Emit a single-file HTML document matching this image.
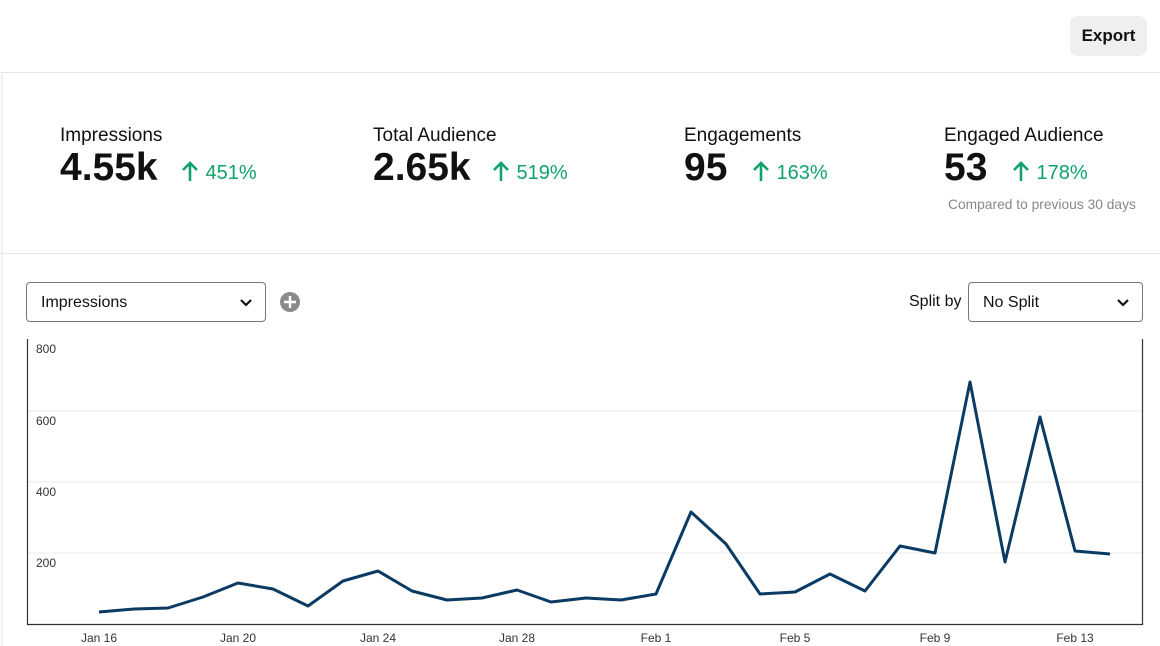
<!DOCTYPE html><html><head><style>
body{margin:0;width:1160px;height:646px;background:#fff;font-family:"Liberation Sans",sans-serif;position:relative;overflow:hidden;color:#111}
.a{position:absolute;white-space:nowrap}
.lbl{font-size:19px;color:#111}
.num{font-size:39px;font-weight:bold;color:#111}
.pct{font-size:20px;color:#0fa36b}
.sel{position:absolute;border:1px solid #777;border-radius:4px;height:38px;box-sizing:border-box;font-size:16px;line-height:38px;padding-left:14px}
</style></head><body>
<div class="a" style="left:1070px;top:16px;width:77px;height:40px;background:#efefef;border-radius:8px;font-weight:bold;font-size:17px;line-height:40px;text-align:center">Export</div>
<div class="a" style="left:0;top:72px;width:1160px;height:1px;background:#e6e6e6"></div>
<div class="a" style="left:1px;top:72px;width:2px;height:574px;background:#f0f0f0"></div>
<div class="a" style="left:0;top:253px;width:1160px;height:1px;background:#e6e6e6"></div>

<div class="a lbl" style="left:60px;top:125px">Impressions</div>
<div class="a num" style="left:60px;top:146px">4.55k</div>
<div class="a pct" style="left:180px;top:160px"><svg width="20" height="22" style="vertical-align:-3px"><path d="M10 21V3M3 10L10 3L17 10" stroke="#0fa36b" stroke-width="2.6" fill="none"/></svg> 451%</div>

<div class="a lbl" style="left:373px;top:125px">Total Audience</div>
<div class="a num" style="left:373px;top:146px">2.65k</div>
<div class="a pct" style="left:491px;top:160px"><svg width="20" height="22" style="vertical-align:-3px"><path d="M10 21V3M3 10L10 3L17 10" stroke="#0fa36b" stroke-width="2.6" fill="none"/></svg> 519%</div>

<div class="a lbl" style="left:684px;top:125px">Engagements</div>
<div class="a num" style="left:684px;top:146px">95</div>
<div class="a pct" style="left:751px;top:160px"><svg width="20" height="22" style="vertical-align:-3px"><path d="M10 21V3M3 10L10 3L17 10" stroke="#0fa36b" stroke-width="2.6" fill="none"/></svg> 163%</div>

<div class="a lbl" style="left:944px;top:125px">Engaged Audience</div>
<div class="a num" style="left:944px;top:146px">53</div>
<div class="a pct" style="left:1011px;top:160px"><svg width="20" height="22" style="vertical-align:-3px"><path d="M10 21V3M3 10L10 3L17 10" stroke="#0fa36b" stroke-width="2.6" fill="none"/></svg> 178%</div>
<div class="a" style="left:948px;top:197px;font-size:13.8px;color:#888">Compared to previous 30 days</div>

<div class="sel" style="left:26px;top:282px;width:240px;height:40px;line-height:40px">Impressions<svg class="a" style="right:12px;top:15px" width="14" height="10"><path d="M2 2L7 7L12 2" stroke="#111" stroke-width="2.2" fill="none"/></svg></div>
<svg class="a" style="left:279px;top:291px" width="22" height="22"><circle cx="11" cy="11" r="10" fill="#8a8a8a"/><path d="M11 5V17M5 11H17" stroke="#fff" stroke-width="2.4"/></svg>
<div class="a" style="left:909px;top:293px;font-size:16px">Split by</div>
<div class="sel" style="left:968px;top:282px;width:175px;height:40px;line-height:40px">No Split<svg class="a" style="right:12px;top:15px" width="14" height="10"><path d="M2 2L7 7L12 2" stroke="#111" stroke-width="2.2" fill="none"/></svg></div>

<svg class="a" style="left:0;top:0" width="1160" height="646">
<g stroke="#e8e8e8" stroke-width="1"><line x1="27" y1="411" x2="1143" y2="411"/><line x1="27" y1="482" x2="1143" y2="482"/><line x1="27" y1="553" x2="1143" y2="553"/></g>
<path d="M27.5 339V624.5H1142.5V339" stroke="#333" stroke-width="1.2" fill="none"/>
<g font-family="Liberation Sans" font-size="12" fill="#333">
<text x="36" y="353">800</text><text x="36" y="425">600</text><text x="36" y="496">400</text><text x="36" y="567">200</text>
<g text-anchor="middle"><text x="99" y="642">Jan 16</text><text x="238" y="642">Jan 20</text><text x="378" y="642">Jan 24</text><text x="517" y="642">Jan 28</text><text x="656" y="642">Feb 1</text><text x="795" y="642">Feb 5</text><text x="935" y="642">Feb 9</text><text x="1075" y="642">Feb 13</text></g></g>
<polyline fill="none" stroke="#0b3a63" stroke-width="3" stroke-linejoin="round" points="99,612 134,609 168,608 203,597 238,583 273,589 308,606 343,581 378,571 412,591 447,600 482,598 517,590 551,602 586,598 621,600 656,594 691,512 726,544 760,594 795,592 830,574 865,591 900,546 935,553 970,382 1005,562 1040,417 1075,551 1110,554"/>
</svg>
</body></html>
